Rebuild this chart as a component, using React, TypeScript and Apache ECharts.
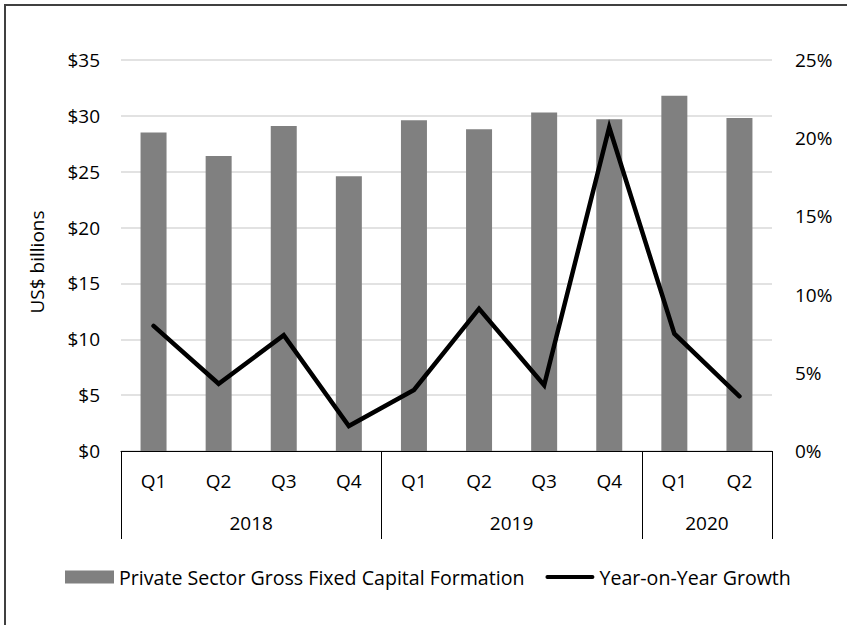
import React, { useEffect, useRef } from "react";
import * as echarts from "echarts";

const quarters = ["Q1", "Q2", "Q3", "Q4", "Q1", "Q2", "Q3", "Q4", "Q1", "Q2"];
const years = ["2018", "2019", "2020"];
const yearSpans = [4, 4, 2];
const capitalFormation = [28.5, 26.4, 29.1, 24.6, 29.6, 28.8, 30.3, 29.7, 31.8, 29.8];
const yoyGrowth = [8.0, 4.3, 7.4, 1.6, 3.9, 9.1, 4.2, 20.7, 7.5, 3.5];
const leftTicks = { min: 0, max: 35, interval: 5 };
const rightTicks = { min: 0, max: 25, interval: 5 };

const FONT = "'Open Sans', 'Noto Sans', sans-serif";
const LINE_ICON =
  "path://M0,0L0.01,0L0.01,0.01Z M2,4.5L47,4.5A2,2,0,0,1,47,8.5L2,8.5A2,2,0,0,1,2,4.5Z M49,13L48.99,13L48.99,12.99Z";

export default function App() {
  const ref = useRef<HTMLDivElement>(null);
  useEffect(() => {
    document.body.style.margin = "0";
    if (!ref.current) return;
    const chart = echarts.init(ref.current, null, { renderer: "svg" });

    const boundaries: number[] = [0];
    yearSpans.forEach((s) => boundaries.push(boundaries[boundaries.length - 1] + s));
    const centers: number[] = yearSpans.map((s, i) => boundaries[i] + s / 2);

    chart.setOption({
      animation: false,
      backgroundColor: "#ffffff",
      textStyle: { fontFamily: FONT },
      grid: { left: 121, right: 75, top: 60, bottom: 174 },
      legend: {
        left: 60,
        top: 562,
        itemWidth: 49,
        itemHeight: 13,
        itemGap: 21,
        textStyle: { fontFamily: FONT, fontSize: 19.6, color: "#000" },
        data: [
          { name: "Private Sector Gross Fixed Capital Formation", icon: "rect" },
          { name: "Year-on-Year Growth", icon: LINE_ICON, itemStyle: { color: "#000" } },
        ],
      },
      xAxis: [
        {
          type: "category",
          data: quarters,
          position: "bottom",
          axisLine: { show: true, lineStyle: { color: "#000", width: 1 } },
          axisTick: { show: false },
          axisLabel: { color: "#000", fontSize: 19, fontFamily: FONT, margin: 20 },
          splitLine: { show: false },
        },
        {
          type: "value",
          min: 0,
          max: quarters.length,
          position: "bottom",
          axisLine: { show: false },
          axisTick: {
            show: true,
            customValues: boundaries,
            length: 88,
            lineStyle: { color: "#000", width: 1 },
          },
          axisLabel: {
            show: true,
            customValues: centers,
            margin: 62,
            color: "#000",
            fontSize: 19,
            fontFamily: FONT,
            formatter: (v: number) => {
              const idx = centers.findIndex((c) => Math.abs(c - v) < 1e-6);
              return idx >= 0 ? years[idx] : "";
            },
          },
          splitLine: { show: false },
        },
      ],
      yAxis: [
        {
          type: "value",
          min: leftTicks.min,
          max: leftTicks.max,
          interval: leftTicks.interval,
          axisLine: { show: false },
          axisTick: { show: false },
          axisLabel: {
            color: "#000",
            fontSize: 19,
            fontFamily: FONT,
            margin: 21,
            formatter: (v: number) => "$" + v,
          },
          splitLine: { lineStyle: { color: "#d9d9d9", width: 1.5 } },
        },
        {
          type: "value",
          min: rightTicks.min,
          max: rightTicks.max,
          interval: rightTicks.interval,
          position: "right",
          axisLine: { show: false },
          axisTick: { show: false },
          axisLabel: {
            color: "#000",
            fontSize: 19,
            fontFamily: FONT,
            margin: 23,
            formatter: (v: number) => v + "%",
          },
          splitLine: { show: false },
        },
      ],
      series: [
        {
          name: "Private Sector Gross Fixed Capital Formation",
          type: "bar",
          xAxisIndex: 0,
          yAxisIndex: 0,
          data: capitalFormation,
          barWidth: 26,
          itemStyle: { color: "#808080" },
        },
        {
          name: "Year-on-Year Growth",
          type: "line",
          xAxisIndex: 0,
          yAxisIndex: 1,
          data: yoyGrowth,
          symbol: "none",
          showSymbol: false,
          lineStyle: { color: "#000", width: 4.5, cap: "round", join: "miter" },
          itemStyle: { color: "#000" },
        },
      ],
      graphic: [
        {
          type: "rect",
          shape: { x: 5, y: 5, width: 900, height: 700 },
          style: { fill: "none", stroke: "#404040", lineWidth: 2 },
          silent: true,
        },
        {
          type: "text",
          x: 37,
          y: 262,
          rotation: Math.PI / 2,
          style: {
            text: "US$ billions",
            fontFamily: FONT,
            fontSize: 19,
            fill: "#000",
            align: "center",
            verticalAlign: "middle",
          },
          silent: true,
        },
      ],
    });
    return () => chart.dispose();
  }, []);
  return <div ref={ref} style={{ width: 847, height: 625 }} />;
}
